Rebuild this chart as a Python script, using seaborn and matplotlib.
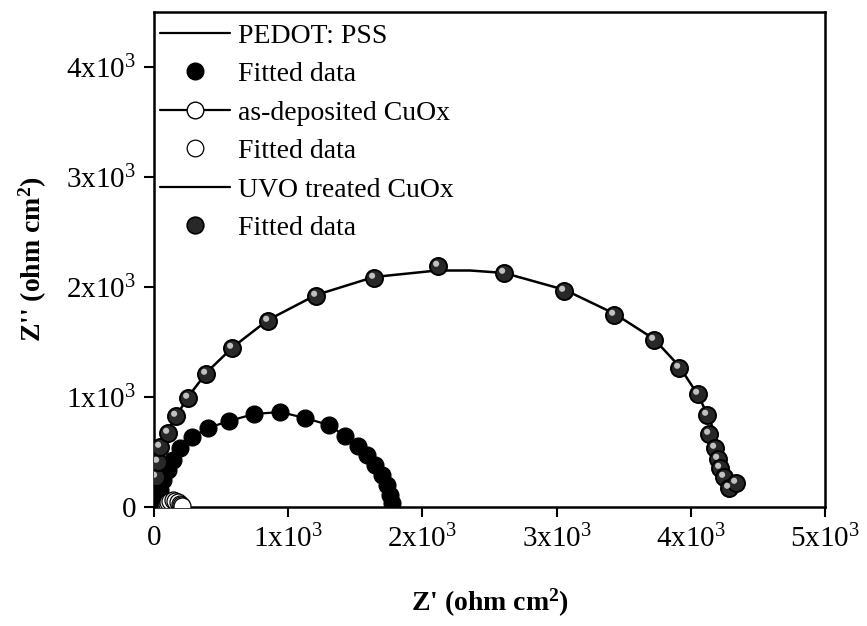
import numpy as np
import pandas as pd
import matplotlib
matplotlib.use("Agg")
import matplotlib.pyplot as plt
import seaborn as sns
from matplotlib.lines import Line2D
from matplotlib.path import Path
from matplotlib.markers import MarkerStyle

# ---- data (Z' , Z'' in ohm cm^2) ----
pedot_x = [30, 45, 67, 104, 142, 194, 283, 402, 559, 745, 939, 1125, 1304,
           1423, 1520, 1587, 1647, 1699, 1736, 1759, 1773]
pedot_y = [64, 155, 245, 336, 427, 536, 636, 718, 782, 845, 864, 809, 745,
           645, 555, 473, 382, 291, 200, 109, 36]

asdep_x = [90, 95, 105, 120, 140, 160, 180, 195, 205, 210]
asdep_y = [10, 30, 45, 55, 60, 55, 45, 30, 15, 5]

uvo_line_x = [7, 22, 45, 104, 253, 395, 589, 849, 1207, 1639, 2109, 2355,
              2608, 3063, 3435, 3726, 3912, 4054, 4143, 4203, 4255, 4307]
uvo_line_y = [109, 291, 518, 700, 1000, 1227, 1455, 1700, 1927, 2091, 2150,
              2150, 2128, 1973, 1755, 1527, 1282, 1018, 791, 564, 336, 155]

uvo_fit_x = [15, 30, 45, 104, 164, 253, 387, 581, 849, 1207, 1639, 2116,
             2608, 3055, 3428, 3726, 3912, 4054, 4121, 4136, 4180, 4203,
             4218, 4247, 4285, 4337]
uvo_fit_y = [273, 409, 545, 673, 827, 991, 1209, 1445, 1691, 1918, 2082,
             2191, 2127, 1964, 1745, 1518, 1264, 1027, 836, 664, 536, 436,
             355, 273, 173, 218]

labels = ["PEDOT: PSS", "Fitted data", "as-deposited CuOx", "Fitted data",
          "UVO treated CuOx", "Fitted data"]
x_ticks = [0, 1000, 2000, 3000, 4000, 5000]
y_ticks = [0, 1000, 2000, 3000, 4000]
x_ticklabels = ["0", "1x10$^3$", "2x10$^3$", "3x10$^3$", "4x10$^3$", "5x10$^3$"]
y_ticklabels = ["0", "1x10$^3$", "2x10$^3$", "3x10$^3$", "4x10$^3$"]

pedot = pd.DataFrame({"x": pedot_x, "y": pedot_y})
asdep = pd.DataFrame({"x": asdep_x, "y": asdep_y})
uvo_line = pd.DataFrame({"x": uvo_line_x, "y": uvo_line_y})
uvo_fit = pd.DataFrame({"x": uvo_fit_x, "y": uvo_fit_y})

sns.set_style("ticks")
plt.rcParams["font.family"] = ["Liberation Serif", "DejaVu Serif"]
plt.rcParams["mathtext.fontset"] = "custom"
plt.rcParams["mathtext.rm"] = "Liberation Serif"
plt.rcParams["mathtext.it"] = "Liberation Serif:italic"
plt.rcParams["mathtext.bf"] = "Liberation Serif:bold"
plt.rcParams["text.color"] = "black"
plt.rcParams["axes.labelcolor"] = "black"

fig = plt.figure(figsize=(8.67, 6.26), dpi=100)
ax = fig.add_axes([0.1776, 0.1901, 0.774, 0.7907])

# highlight marker for the shaded spheres (unit sphere radius = 1)
hl_verts = [(1, 1), (-1, -1)]
hl_codes = [Path.MOVETO, Path.MOVETO]
circ = Path.circle(center=(-0.28, 0.32), radius=0.36)
hl_verts += list(circ.vertices)
hl_codes += list(circ.codes)
highlight = MarkerStyle(Path(hl_verts, hl_codes))

msize = 150

# PEDOT:PSS
sns.lineplot(data=pedot, x="x", y="y", sort=False, color="black", lw=1.6,
             ax=ax, legend=False)
sns.scatterplot(data=pedot, x="x", y="y", color="black", s=msize,
                edgecolor="black", linewidth=0.8, ax=ax, legend=False,
                zorder=3)

# as-deposited CuOx
sns.lineplot(data=asdep, x="x", y="y", sort=False, color="black", lw=1.4,
             ax=ax, legend=False, zorder=4)
sns.scatterplot(data=asdep, x="x", y="y", color="white", s=msize,
                edgecolor="black", linewidth=0.9, ax=ax, legend=False,
                zorder=5)

# UVO treated CuOx
sns.lineplot(data=uvo_line, x="x", y="y", sort=False, color="black", lw=1.8,
             ax=ax, legend=False, zorder=2)
sns.scatterplot(data=uvo_fit, x="x", y="y", color="#282828", s=msize,
                edgecolor="black", linewidth=1.4, ax=ax, legend=False,
                zorder=3)
sns.scatterplot(data=uvo_fit, x="x", y="y", color="#c0c0c0", s=msize,
                marker=highlight, linewidth=0, ax=ax, legend=False,
                zorder=3.5)

ax.set_xlim(0, 5000)
ax.set_ylim(0, 4500)
ax.set_xticks(x_ticks)
ax.set_xticklabels(x_ticklabels)
ax.set_yticks(y_ticks)
ax.set_yticklabels(y_ticklabels)
ax.tick_params(axis="both", direction="out", length=7, width=1.5,
               labelsize=21, colors="black", pad=6)
for sp in ax.spines.values():
    sp.set_linewidth(1.8)
    sp.set_color("black")
    sp.set_visible(True)

ax.set_xlabel("Z' (ohm cm$^\\mathbf{2}$)", fontsize=20, fontweight="bold",
              labelpad=24)
ax.set_ylabel("Z'' (ohm cm$^\\mathbf{2}$)", fontsize=20, fontweight="bold",
              labelpad=12)

# legend
handles = [
    Line2D([], [], color="black", lw=1.6),
    Line2D([], [], color="black", marker="o", ls="none", markersize=12,
           markerfacecolor="black"),
    Line2D([], [], color="black", lw=1.6, marker="o", markersize=12,
           markerfacecolor="white", markeredgewidth=1.0),
    Line2D([], [], color="black", marker="o", ls="none", markersize=12,
           markerfacecolor="white", markeredgewidth=0.9),
    Line2D([], [], color="black", lw=1.6),
    Line2D([], [], color="black", marker="o", ls="none", markersize=12,
           markerfacecolor="#282828", markeredgewidth=1.2),
]
leg = ax.legend(handles, labels, loc="upper left", frameon=False,
                fontsize=20, handlelength=2.5, handletextpad=0.3,
                labelspacing=0.47, borderaxespad=0.0,
                bbox_to_anchor=(-0.007, 1.0))

fig.savefig("out.png", dpi=100)
